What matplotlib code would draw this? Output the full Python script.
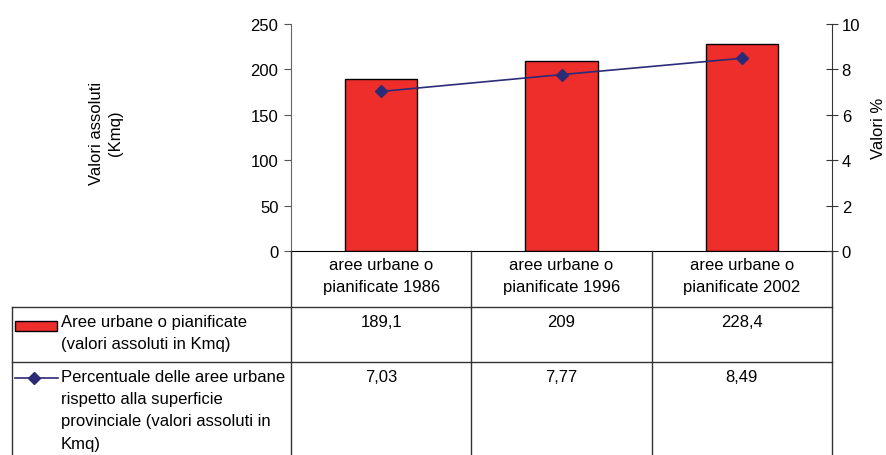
import matplotlib
matplotlib.use("Agg")
import matplotlib.pyplot as plt
from matplotlib.patches import Rectangle
from matplotlib.lines import Line2D

plt.rcParams['font.family'] = ['Liberation Sans', 'DejaVu Sans']

# data
categorie = ["aree urbane o\npianificate 1986",
             "aree urbane o\npianificate 1996",
             "aree urbane o\npianificate 2002"]
aree_kmq = [189.1, 209, 228.4]
percentuali = [7.03, 7.77, 8.49]
serie_nomi = ["Aree urbane o pianificate\n(valori assoluti in Kmq)",
              "Percentuale delle aree urbane\nrispetto alla superficie\nprovinciale (valori assoluti in\nKmq)"]

W, H = 887, 456
ROSSO = '#EE2E2B'
BLU = '#2B2B78'
FS = 12
LS = 1.6

def fmt(v):
    # decimal comma, as in the original table
    return ("%g" % v).replace('.', ',')

fig = plt.figure(figsize=(W / 100, H / 100), dpi=100)

# chart area in pixels
x0, x1, ytop, ybot = 291, 832, 25, 252
ax = fig.add_axes([x0 / W, (H - ybot) / H, (x1 - x0) / W, (ybot - ytop) / H])
n = len(categorie)
pos = list(range(n))
ax.bar(pos, aree_kmq, width=0.4, color=ROSSO, edgecolor='black', linewidth=1.0, zorder=2)
ax.set_xlim(-0.5, n - 0.5)
ax.set_ylim(0, 250)
ax.set_yticks(range(0, 251, 50))
ax.set_xticks([])
ax.tick_params(axis='y', labelsize=FS, length=5, color='#555555', pad=4)
for s in ['top', 'right']:
    ax.spines[s].set_visible(False)
ax.spines['left'].set_color('#666666')
ax.spines['bottom'].set_color('black')

ax2 = ax.twinx()
ax2.plot(pos, percentuali, color=BLU, linewidth=1.2, marker='D', markersize=6,
         markerfacecolor=BLU, markeredgecolor=BLU, zorder=3)
ax2.set_ylim(0, 10)
ax2.set_yticks(range(0, 11, 2))
ax2.tick_params(axis='y', labelsize=FS, length=8, direction='inout', color='#333333', pad=3)
for s in ['top', 'left', 'bottom']:
    ax2.spines[s].set_visible(False)
ax2.spines['right'].set_color('#333333')

fig.text(106 / W, 1 - 133 / H, "Valori assoluti\n(Kmq)", rotation=90, ha='center',
         va='center', fontsize=FS, multialignment='center', linespacing=1.3)
fig.text(879 / W, 1 - 128 / H, "Valori %", rotation=90, ha='center', va='center', fontsize=FS)

# data table drawn on an overlay in pixel coordinates
ov = fig.add_axes([0, 0, 1, 1], facecolor='none')
ov.set_xlim(0, W)
ov.set_ylim(H, 0)
ov.axis('off')

col_w = (x1 - x0) / n
cols = [x0 + i * col_w for i in range(n + 1)]
r_head, r1, r2 = 252, 308, 363
lc = '#333333'
for cx in cols:
    ov.add_line(Line2D([cx, cx], [r_head, H], color=lc, lw=1.0))
ov.add_line(Line2D([12, 12], [r1, H], color=lc, lw=1.0))
for ry in [r1, r2]:
    ov.add_line(Line2D([12, x1], [ry, ry], color=lc, lw=1.0))

for i, c in enumerate(categorie):
    ov.text(cols[i] + col_w / 2, r_head + 6, c, ha='center', va='top', fontsize=FS,
            linespacing=LS)
for i in range(n):
    ov.text(cols[i] + col_w / 2, r1 + 7, fmt(aree_kmq[i]), ha='center', va='top', fontsize=FS)
    ov.text(cols[i] + col_w / 2, r2 + 7, fmt(percentuali[i]), ha='center', va='top', fontsize=FS)

# legend keys inside the table
ov.add_patch(Rectangle((15, 322), 42, 10, facecolor=ROSSO, edgecolor='black', lw=1.0))
ov.add_line(Line2D([15, 58], [379, 379], color=BLU, lw=1.2))
ov.add_line(Line2D([34], [379], color=BLU, marker='D', markersize=6, lw=0))
ov.text(61, r1 + 7, serie_nomi[0], ha='left', va='top', fontsize=FS, linespacing=LS)
ov.text(61, r2 + 7, serie_nomi[1], ha='left', va='top', fontsize=FS, linespacing=LS)

fig.savefig("out.png", dpi=100)
